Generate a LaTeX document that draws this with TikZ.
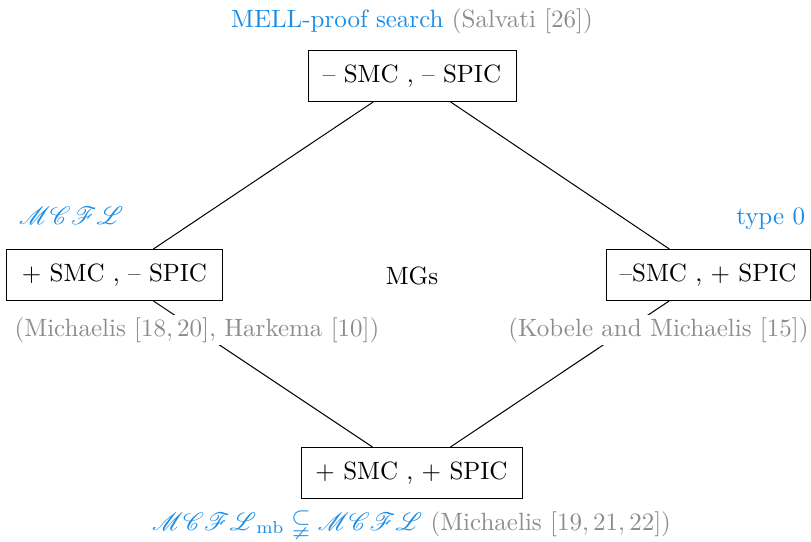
\documentclass[tikz,border=0pt]{standalone}
\usepackage{amsmath,amssymb}
\usepackage{mathrsfs}
\definecolor{refblue}{RGB}{25,140,230}
\definecolor{refgray}{RGB}{140,140,140}
\tikzset{
  statebox/.style={draw, fill=white, minimum width=#1, minimum height=20.4pt, inner sep=0pt},
  bluelabel/.style={text=refblue, inner sep=1pt},
  citelabel/.style={text=refgray, fill=white, inner sep=1pt},
}
\newcommand{\mcfl}{\mathscr{MCFL}}
\begin{document}
\begin{tikzpicture}[x=0.4pt, y=-0.4pt]
  \useasboundingbox (0,0) rectangle (811,541);
  % lattice of the four parameter settings
  \node[statebox=83.2pt] (top)    at (412,76)    {\strut -- SMC , -- SPIC};
  \node[statebox=86pt]   (left)   at (114.5,275) {\strut + SMC , -- SPIC};
  \node[statebox=81.6pt] (right)  at (708,275)   {\strut --SMC , + SPIC};
  \node[statebox=88.4pt] (bottom) at (411.5,473) {\strut + SMC , + SPIC};
  \node (mgs) at (412,276) {MGs};
  \draw (top) -- (left);
  \draw (top) -- (right);
  \draw (left) -- (bottom);
  \draw (right) -- (bottom);
  % class labels and references
  \node[anchor=base] (toplab) at (412,27) {\textcolor{refblue}{MELL-proof search} \textcolor{refgray}{(Salvati [26])}};
  \node[bluelabel, anchor=base west] (leftlab) at (16,224) {$\mcfl$};
  \node[bluelabel, anchor=base east] (rightlab) at (808,224) {type 0};
  \node[citelabel, anchor=base] (leftcite) at (197,336) {(Michaelis [$18, 20$], Harkema [$10$])};
  \node[citelabel, anchor=base] (rightcite) at (658.5,336) {(Kobele and Michaelis [$15$])};
  \node[anchor=base] (botlab) at (411.5,530) {\textcolor{refblue}{$\mcfl_{\mathrm{mb}} \subsetneqq \mcfl$} \textcolor{refgray}{(Michaelis [$19, 21, 22$])}};
\end{tikzpicture}
\end{document}
